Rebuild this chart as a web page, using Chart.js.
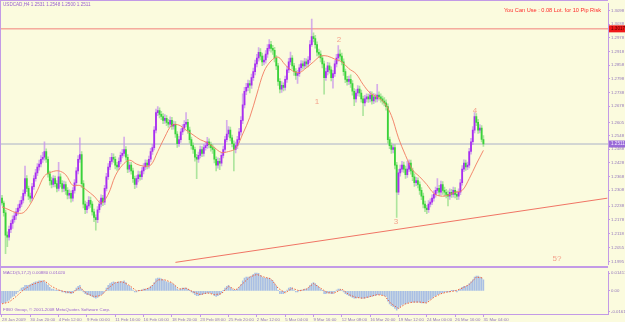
<!DOCTYPE html>
<html lang="en">
<head>
<meta charset="UTF-8">
<title>USDCAD,H4</title>
<script src="https://cdn.jsdelivr.net/npm/chart.js"></script>
<style>
  html, body { margin: 0; padding: 0; }
  body { width: 625px; height: 322px; background: #fbfbde; position: relative; overflow: hidden;
         font-family: "Liberation Sans", Arial, sans-serif; }
  canvas { position: absolute; left: 0; }
  #priceChart { top: 0; }
  #macdChart { top: 268px; }
  .txt { position: absolute; white-space: nowrap; line-height: 1; }
  #title { left: 3px; top: 3px; font-size: 4.6px; color: #9a62d0; }
  #risk { right: 24px; top: 8px; font-size: 5.6px; color: #ff2a2a; }
  #macdTitle { left: 3px; top: 271px; font-size: 4.4px; color: #9a62d0; }
  #copy { left: 3px; top: 308px; font-size: 4.4px; color: #9a62d0; }
  .rule { position: absolute; background: #c39ae6; }
</style>
</head>
<body>
  <canvas id="priceChart" width="625" height="268"></canvas>
  <canvas id="macdChart" width="625" height="54"></canvas>
  <div class="rule" style="left:0;top:266px;width:608px;height:2px"></div>
  <div class="rule" style="left:0;top:0;width:1px;height:314px"></div>
  <div class="rule" style="left:0;top:0;width:608px;height:1px"></div>
  <div id="title" class="txt"></div>
  <div id="risk" class="txt">You Can Use : 0.08 Lot. for 10 Pip Risk</div>
  <div id="macdTitle" class="txt">MACD(5,17,2) 0.00880 0.01020</div>
  <div id="copy" class="txt">FIBO Group, © 2001-2008 MetaQuotes Software Corp.</div>

<script>
// USDCAD H4 bars, oldest first (open of each bar = close of the previous one)
const firstOpen = 1.2273;
const closes = [
  1.2252,1.2209,1.2111,1.2102,1.2136,1.2162,1.2179,1.2196,1.2213,1.2230,
  1.2247,1.2264,1.2294,1.2359,1.2316,1.2282,1.2273,1.2324,1.2359,1.2384,
  1.2410,1.2423,1.2444,1.2453,1.2478,1.2444,1.2380,1.2350,1.2333,1.2359,
  1.2337,1.2316,1.2367,1.2337,1.2316,1.2333,1.2307,1.2286,1.2294,1.2273,
  1.2307,1.2341,1.2393,1.2444,1.2465,1.2337,1.2247,1.2222,1.2239,1.2264,
  1.2247,1.2213,1.2188,1.2179,1.2222,1.2247,1.2273,1.2256,1.2316,1.2367,
  1.2410,1.2435,1.2453,1.2444,1.2418,1.2410,1.2435,1.2461,1.2470,1.2487,
  1.2453,1.2401,1.2418,1.2393,1.2359,1.2333,1.2359,1.2376,1.2367,1.2393,
  1.2410,1.2427,1.2418,1.2444,1.2478,1.2495,1.2572,1.2649,1.2658,1.2641,
  1.2632,1.2615,1.2624,1.2606,1.2598,1.2615,1.2589,1.2598,1.2555,1.2512,
  1.2530,1.2564,1.2581,1.2598,1.2606,1.2572,1.2530,1.2504,1.2487,1.2453,
  1.2444,1.2461,1.2487,1.2470,1.2495,1.2504,1.2521,1.2508,1.2495,1.2487,
  1.2444,1.2418,1.2435,1.2427,1.2461,1.2487,1.2530,1.2555,1.2572,1.2538,
  1.2512,1.2487,1.2504,1.2530,1.2564,1.2615,1.2683,1.2743,1.2760,1.2777,
  1.2769,1.2803,1.2829,1.2863,1.2889,1.2914,1.2897,1.2872,1.2880,1.2906,
  1.2931,1.2948,1.2931,1.2923,1.2889,1.2854,1.2786,1.2752,1.2769,1.2760,
  1.2795,1.2837,1.2872,1.2889,1.2854,1.2829,1.2812,1.2820,1.2846,1.2863,
  1.2854,1.2872,1.2863,1.2880,1.2948,1.2983,1.2974,1.2948,1.2914,1.2906,
  1.2889,1.2863,1.2803,1.2829,1.2854,1.2837,1.2803,1.2820,1.2863,1.2889,
  1.2906,1.2897,1.2872,1.2829,1.2795,1.2786,1.2795,1.2777,1.2743,1.2709,
  1.2735,1.2752,1.2735,1.2709,1.2692,1.2709,1.2718,1.2709,1.2726,1.2700,
  1.2718,1.2709,1.2726,1.2718,1.2709,1.2700,1.2692,1.2675,1.2530,1.2504,
  1.2487,1.2495,1.2418,1.2299,1.2384,1.2401,1.2418,1.2401,1.2376,1.2401,
  1.2427,1.2393,1.2367,1.2341,1.2350,1.2333,1.2307,1.2282,1.2247,1.2230,
  1.2222,1.2247,1.2256,1.2273,1.2290,1.2307,1.2316,1.2299,1.2333,1.2307,
  1.2299,1.2290,1.2282,1.2299,1.2290,1.2307,1.2290,1.2282,1.2299,1.2341,
  1.2401,1.2427,1.2410,1.2418,1.2478,1.2521,1.2572,1.2632,1.2606,1.2572,
  1.2581,1.2531,1.2511
];
const highs = [
  1.2285,1.2260,1.2221,1.2125,1.2150,1.2175,1.2196,1.2210,1.2228,1.2245,
  1.2262,1.2280,1.2310,1.2414,1.2372,1.2326,1.2295,1.2338,1.2372,1.2400,
  1.2425,1.2440,1.2460,1.2475,1.2521,1.2490,1.2455,1.2392,1.2366,1.2372,
  1.2370,1.2350,1.2431,1.2380,1.2350,1.2348,1.2345,1.2320,1.2310,1.2305,
  1.2320,1.2355,1.2408,1.2460,1.2538,1.2478,1.2350,1.2260,1.2255,1.2280,
  1.2278,1.2258,1.2225,1.2200,1.2236,1.2262,1.2288,1.2285,1.2330,1.2382,
  1.2425,1.2452,1.2470,1.2468,1.2456,1.2430,1.2450,1.2476,1.2488,1.2542,
  1.2500,1.2465,1.2432,1.2430,1.2405,1.2370,1.2372,1.2392,1.2390,1.2408,
  1.2425,1.2442,1.2440,1.2458,1.2492,1.2510,1.2588,1.2665,1.2675,1.2670,
  1.2655,1.2645,1.2640,1.2636,1.2620,1.2630,1.2628,1.2612,1.2610,1.2566,
  1.2545,1.2578,1.2596,1.2614,1.2649,1.2620,1.2585,1.2542,1.2516,1.2498,
  1.2466,1.2476,1.2502,1.2500,1.2510,1.2520,1.2540,1.2534,1.2520,1.2508,
  1.2498,1.2455,1.2450,1.2448,1.2475,1.2502,1.2545,1.2615,1.2588,1.2585,
  1.2550,1.2525,1.2520,1.2545,1.2580,1.2632,1.2731,1.2760,1.2778,1.2792,
  1.2790,1.2818,1.2845,1.2880,1.2905,1.2935,1.2930,1.2910,1.2898,1.2922,
  1.2948,1.2970,1.2962,1.2945,1.2936,1.2900,1.2866,1.2798,1.2785,1.2780,
  1.2810,1.2852,1.2888,1.2915,1.2900,1.2866,1.2842,1.2835,1.2860,1.2878,
  1.2876,1.2888,1.2885,1.2895,1.2965,1.3060,1.3000,1.2988,1.2960,1.2928,
  1.2920,1.2900,1.2875,1.2845,1.2870,1.2868,1.2850,1.2835,1.2878,1.2905,
  1.2944,1.2925,1.2910,1.2885,1.2840,1.2808,1.2810,1.2815,1.2790,1.2755,
  1.2750,1.2768,1.2765,1.2748,1.2722,1.2725,1.2732,1.2730,1.2742,1.2740,
  1.2734,1.2730,1.2773,1.2740,1.2732,1.2722,1.2715,1.2705,1.2688,1.2542,
  1.2516,1.2510,1.2508,1.2430,1.2400,1.2418,1.2435,1.2432,1.2414,1.2435,
  1.2442,1.2440,1.2405,1.2380,1.2365,1.2362,1.2345,1.2320,1.2295,1.2260,
  1.2242,1.2262,1.2270,1.2288,1.2305,1.2322,1.2359,1.2330,1.2348,1.2346,
  1.2322,1.2312,1.2305,1.2314,1.2312,1.2322,1.2320,1.2304,1.2314,1.2356,
  1.2416,1.2442,1.2440,1.2432,1.2492,1.2536,1.2588,1.2649,1.2645,1.2620,
  1.2596,1.2592,1.2548
];
const lows = [
  1.2242,1.2194,1.2029,1.2060,1.2088,1.2122,1.2140,1.2168,1.2180,1.2200,
  1.2218,1.2236,1.2252,1.2283,1.2302,1.2266,1.2255,1.2262,1.2312,1.2348,
  1.2372,1.2396,1.2410,1.2430,1.2440,1.2430,1.2365,1.2330,1.2318,1.2322,
  1.2322,1.2300,1.2305,1.2322,1.2300,1.2302,1.2290,1.2270,1.2272,1.2255,
  1.2260,1.2295,1.2330,1.2380,1.2430,1.2320,1.2230,1.2205,1.2208,1.2228,
  1.2232,1.2198,1.2170,1.2132,1.2165,1.2210,1.2235,1.2240,1.2245,1.2305,
  1.2355,1.2398,1.2422,1.2430,1.2402,1.2395,1.2398,1.2424,1.2450,1.2458,
  1.2440,1.2385,1.2388,1.2378,1.2342,1.2315,1.2320,1.2345,1.2352,1.2355,
  1.2380,1.2398,1.2402,1.2405,1.2432,1.2465,1.2485,1.2560,1.2636,1.2626,
  1.2618,1.2600,1.2602,1.2592,1.2584,1.2586,1.2575,1.2576,1.2540,1.2496,
  1.2500,1.2518,1.2552,1.2568,1.2586,1.2558,1.2515,1.2488,1.2470,1.2436,
  1.2359,1.2430,1.2450,1.2455,1.2458,1.2484,1.2492,1.2494,1.2480,1.2470,
  1.2428,1.2393,1.2405,1.2398,1.2415,1.2450,1.2476,1.2520,1.2542,1.2525,
  1.2498,1.2393,1.2472,1.2490,1.2518,1.2550,1.2600,1.2670,1.2728,1.2745,
  1.2735,1.2755,1.2790,1.2815,1.2850,1.2875,1.2880,1.2855,1.2858,1.2866,
  1.2892,1.2920,1.2915,1.2905,1.2872,1.2838,1.2768,1.2735,1.2738,1.2744,
  1.2748,1.2782,1.2825,1.2860,1.2840,1.2812,1.2795,1.2777,1.2808,1.2834,
  1.2840,1.2842,1.2848,1.2850,1.2868,1.2940,1.2960,1.2932,1.2898,1.2890,
  1.2872,1.2845,1.2730,1.2790,1.2815,1.2822,1.2788,1.2756,1.2808,1.2850,
  1.2875,1.2882,1.2858,1.2812,1.2780,1.2770,1.2772,1.2760,1.2726,1.2679,
  1.2695,1.2722,1.2720,1.2695,1.2636,1.2678,1.2696,1.2694,1.2696,1.2686,
  1.2688,1.2695,1.2696,1.2704,1.2695,1.2686,1.2678,1.2660,1.2515,1.2490,
  1.2470,1.2472,1.2402,1.2188,1.2288,1.2370,1.2388,1.2386,1.2360,1.2364,
  1.2390,1.2378,1.2350,1.2325,1.2328,1.2318,1.2290,1.2266,1.2230,1.2214,
  1.2205,1.2210,1.2235,1.2244,1.2260,1.2278,1.2295,1.2284,1.2286,1.2290,
  1.2282,1.2274,1.2239,1.2268,1.2276,1.2278,1.2274,1.2266,1.2268,1.2288,
  1.2330,1.2390,1.2395,1.2398,1.2406,1.2466,1.2508,1.2560,1.2592,1.2558,
  1.2560,1.2520,1.2500
];

// red moving average, read every 4th bar
const maStep = 4;
const maValues = [
  1.2235,1.2222,1.2209,1.2209,1.2247,1.2307,1.2371,1.2388,1.2393,1.2376,
  1.2329,1.2329,1.2307,1.2282,1.2252,1.2290,1.2371,1.2418,1.2440,1.2423,
  1.2414,1.2418,1.2478,1.2542,1.2594,1.2594,1.2572,1.2551,1.2530,1.2517,
  1.2495,1.2474,1.2478,1.2491,1.2555,1.2628,1.2730,1.2829,1.2876,1.2893,
  1.2859,1.2833,1.2825,1.2846,1.2872,1.2897,1.2897,1.2884,1.2872,1.2842,
  1.2820,1.2773,1.2735,1.2718,1.2692,1.2636,1.2538,1.2461,1.2397,1.2367,
  1.2333,1.2294,1.2282,1.2286,1.2299,1.2307,1.2359,1.2423,1.2483
];

// MACD histogram, one value per bar
const macdHist = [
  -0.0095,-0.0095,-0.0088,-0.0080,-0.0073,-0.0058,-0.0044,-0.0037,-0.0022,-0.0007,
  0.0007,0.0022,0.0029,0.0044,0.0044,0.0044,0.0051,0.0058,0.0066,0.0073,
  0.0073,0.0080,0.0080,0.0080,0.0073,0.0058,0.0044,0.0029,0.0015,0.0015,
  0.0007,0.0003,0.0007,0.0003,-0.0007,-0.0007,-0.0015,-0.0015,-0.0015,-0.0022,
  -0.0015,0.0003,0.0022,0.0037,0.0044,0.0015,-0.0007,-0.0022,-0.0029,-0.0029,
  -0.0037,-0.0044,-0.0051,-0.0058,-0.0051,-0.0037,-0.0029,-0.0022,-0.0003,0.0022,
  0.0044,0.0058,0.0066,0.0073,0.0066,0.0066,0.0073,0.0073,0.0073,0.0080,
  0.0066,0.0044,0.0037,0.0022,0.0007,-0.0007,-0.0007,0.0003,0.0003,0.0007,
  0.0015,0.0015,0.0015,0.0022,0.0037,0.0044,0.0066,0.0095,0.0102,0.0102,
  0.0095,0.0088,0.0080,0.0073,0.0066,0.0066,0.0058,0.0051,0.0037,0.0015,
  0.0007,0.0015,0.0022,0.0022,0.0022,0.0015,0.0003,-0.0007,-0.0015,-0.0029,
  -0.0037,-0.0037,-0.0029,-0.0029,-0.0022,-0.0022,-0.0015,-0.0015,-0.0015,-0.0022,
  -0.0037,-0.0044,-0.0037,-0.0029,-0.0015,0.0003,0.0022,0.0037,0.0044,0.0029,
  0.0015,0.0003,0.0007,0.0015,0.0029,0.0051,0.0080,0.0102,0.0110,0.0110,
  0.0110,0.0117,0.0131,0.0141,0.0141,0.0139,0.0124,0.0110,0.0102,0.0102,
  0.0102,0.0102,0.0088,0.0080,0.0058,0.0037,0.0003,-0.0022,-0.0022,-0.0022,
  -0.0007,0.0007,0.0022,0.0029,0.0022,0.0007,-0.0007,-0.0007,0.0003,0.0007,
  0.0007,0.0015,0.0015,0.0022,0.0044,0.0058,0.0066,0.0058,0.0044,0.0029,
  0.0015,0.0003,-0.0022,-0.0022,-0.0015,-0.0015,-0.0022,-0.0022,-0.0007,0.0007,
  0.0015,0.0015,0.0007,-0.0007,-0.0022,-0.0029,-0.0037,-0.0044,-0.0051,-0.0058,
  -0.0058,-0.0051,-0.0051,-0.0058,-0.0058,-0.0058,-0.0051,-0.0051,-0.0044,-0.0044,
  -0.0037,-0.0037,-0.0029,-0.0029,-0.0029,-0.0029,-0.0037,-0.0044,-0.0080,-0.0102,
  -0.0117,-0.0124,-0.0139,-0.0153,-0.0139,-0.0124,-0.0110,-0.0102,-0.0102,-0.0095,
  -0.0088,-0.0088,-0.0088,-0.0088,-0.0088,-0.0088,-0.0088,-0.0095,-0.0095,-0.0095,
  -0.0088,-0.0073,-0.0066,-0.0058,-0.0044,-0.0037,-0.0029,-0.0022,-0.0015,-0.0015,
  -0.0007,-0.0007,-0.0007,-0.0007,0.0003,0.0003,0.0003,-0.0007,0.0003,0.0015,
  0.0029,0.0037,0.0037,0.0044,0.0058,0.0073,0.0088,0.0110,0.0117,0.0117,
  0.0110,0.0102,0.0088
];
// MACD signal line (dotted), read every 4th bar
const signalStep = 4;
const macdSignal = [
  -0.0102,-0.0088,-0.0044,0.0007,0.0044,0.0066,0.0080,0.0037,0.0007,-0.0007,
  -0.0015,0.0029,-0.0022,-0.0044,-0.0037,0.0022,0.0066,0.0073,0.0044,0.0000,
  0.0007,0.0029,0.0088,0.0088,0.0066,0.0015,0.0022,-0.0007,-0.0029,-0.0015,
  -0.0029,-0.0022,0.0037,0.0007,0.0058,0.0110,0.0131,0.0110,0.0095,0.0022,
  -0.0015,0.0022,0.0000,0.0015,0.0058,0.0022,-0.0015,-0.0015,0.0015,-0.0029,
  -0.0051,-0.0058,-0.0044,-0.0029,-0.0037,-0.0102,-0.0139,-0.0102,-0.0088,-0.0088,
  -0.0095,-0.0051,-0.0022,-0.0007,0.0000,0.0022,0.0051,0.0110,0.0102
];

// axis labels
const priceTicks = [1.3098,1.3038,1.2978,1.2918,1.2858,1.2798,1.2738,1.2678,1.2605,1.2548,
                    1.2488,1.2428,1.2368,1.2308,1.2238,1.2178,1.2118,1.2055,1.1995];
const macdTicks = [0.01413, 0, -0.01613];
const timeTickBars = [0,16,32,48,64,80,96,112,128,144,160,176,192,208,224,240,256,272];
const timeLabels = ['28 Jan 2009','30 Jan 20:00','4 Feb 12:00','9 Feb 00:00','11 Feb 16:00',
  '16 Feb 04:00','18 Feb 20:00','23 Feb 08:00','25 Feb 20:00','2 Mar 12:00','5 Mar 04:00',
  '9 Mar 16:00','12 Mar 08:00','16 Mar 20:00','19 Mar 12:00','24 Mar 00:00','26 Mar 16:00','31 Mar 04:00'];

// drawn objects
const stopLevel = 1.3017;
const trendBars = [98, 342];
const trendPrices = [1.1991, 1.2273];
const waveText = ['1', '2', '3', '4', '5?'];
const waveBars = [178, 190.4, 222.6, 267.2, 313.6];
const wavePrices = [1.2696, 1.2970, 1.2170, 1.2658, 1.2005];

// view window
const xMin = -1.13, xMax = 342.4;
const priceMin = 1.1982, priceMax = 1.3128;
const macdMin = -0.01825, macdMax = 0.01533;

const axisColor = '#c39ae6';
const labelColor = '#9478bc';
const fontFamily = '"Liberation Sans", Arial, sans-serif';
Chart.defaults.font.family = fontFamily;

const n = closes.length;
const opens = closes.map((c, i) => (i === 0 ? firstOpen : closes[i - 1]));
const up = closes.map((c, i) => c >= opens[i]);
const last = n - 1;

document.getElementById('title').textContent =
  'USDCAD,H4 ' + [opens[last], highs[last], lows[last], closes[last]].map(v => v.toFixed(4)).join(' ');

const priceTags = {
  id: 'priceTags',
  afterDatasetsDraw(chart) {
    const { ctx, chartArea, scales } = chart;
    const x = scales.x, y = scales.y;
    ctx.save();
    // wave count
    ctx.font = '8px ' + fontFamily;
    ctx.fillStyle = '#f4a38c';
    ctx.textAlign = 'center';
    ctx.textBaseline = 'middle';
    waveText.forEach((t, k) => ctx.fillText(t, x.getPixelForValue(waveBars[k]), y.getPixelForValue(wavePrices[k])));
    // tags on the price axis
    const tags = [
      { v: stopLevel, fill: '#f01818', text: '#5a0000' },
      { v: closes[last], fill: '#9a6ad8', text: '#f4ecff' }
    ];
    ctx.font = '4.6px ' + fontFamily;
    ctx.textAlign = 'left';
    tags.forEach(t => {
      const py = y.getPixelForValue(t.v);
      ctx.fillStyle = t.fill;
      ctx.fillRect(chartArea.right + 1, py - 3.5, chart.width - chartArea.right - 1, 7);
      ctx.fillStyle = t.text;
      ctx.fillText(t.v.toFixed(4), chartArea.right + 3, py);
    });
    ctx.restore();
  }
};

new Chart(document.getElementById('priceChart'), {
  type: 'bar',
  data: {
    datasets: [
      { type: 'line', data: [{ x: xMin, y: stopLevel }, { x: xMax, y: stopLevel }],
        borderColor: '#f2807a', borderWidth: 1, pointRadius: 0, order: 7 },
      { type: 'line', data: [{ x: xMin, y: closes[last] }, { x: xMax, y: closes[last] }],
        borderColor: '#aab0c8', borderWidth: 1, pointRadius: 0, order: 7 },
      { type: 'line', data: trendBars.map((b, k) => ({ x: b, y: trendPrices[k] })),
        borderColor: '#f07464', borderWidth: 1, pointRadius: 0, order: 6 },
      { data: closes.map((c, i) => ({ x: i, y: [lows[i], highs[i]] })),
        backgroundColor: up.map(u => (u ? 'rgba(196,140,238,0.7)' : 'rgba(140,220,130,0.7)')),
        barThickness: 1, grouped: false, borderWidth: 0, order: 5 },
      { data: closes.map((c, i) => ({ x: i, y: [opens[i], c] })),
        backgroundColor: up.map(u => (u ? '#a82ef0' : '#3ad23a')),
        barThickness: 1.15, minBarLength: 1, grouped: false, borderWidth: 0, order: 4 },
      { type: 'line', data: maValues.map((v, k) => ({ x: k * maStep, y: v })),
        borderColor: '#f27a60', borderWidth: 0.9, pointRadius: 0, tension: 0.35, order: 3 }
    ]
  },
  options: {
    responsive: false,
    devicePixelRatio: 1,
    animation: false,
    events: [],
    layout: { padding: 0 },
    plugins: { legend: { display: false }, tooltip: { enabled: false } },
    scales: {
      x: { type: 'linear', min: xMin, max: xMax, offset: false, display: false, grid: { offset: false } },
      y: {
        position: 'right', min: priceMin, max: priceMax, beginAtZero: false,
        afterFit: s => { s.width = 17; },
        afterBuildTicks: s => { s.ticks = priceTicks.map(v => ({ value: v })); },
        ticks: { autoSkip: false, padding: 1, color: labelColor, font: { size: 4.3 },
                 callback: v => v.toFixed(4) },
        grid: { drawOnChartArea: false, tickLength: 2, color: axisColor },
        border: { color: axisColor }
      }
    }
  },
  plugins: [priceTags]
});

new Chart(document.getElementById('macdChart'), {
  type: 'bar',
  data: {
    datasets: [
      { type: 'line', data: macdSignal.map((v, k) => ({ x: k * signalStep, y: v })),
        borderColor: '#f0603c', borderWidth: 1, borderDash: [1.5, 1.5], pointRadius: 0, order: 1 },
      { data: macdHist.map((v, i) => ({ x: i, y: v })),
        backgroundColor: '#a9bfe4', barThickness: 0.9, borderWidth: 0, order: 2 }
    ]
  },
  options: {
    responsive: false,
    devicePixelRatio: 1,
    animation: false,
    events: [],
    layout: { padding: 0 },
    plugins: { legend: { display: false }, tooltip: { enabled: false } },
    scales: {
      x: {
        type: 'linear', min: xMin, max: xMax, offset: false,
        afterFit: s => { s.height = 8; },
        afterBuildTicks: s => { s.ticks = timeTickBars.map(v => ({ value: v })); },
        ticks: { autoSkip: false, maxRotation: 0, align: 'start', padding: 0, color: labelColor,
                 font: { size: 4.3 }, callback: v => timeLabels[timeTickBars.indexOf(v)] },
        grid: { drawOnChartArea: false, offset: false, tickLength: 3, color: axisColor },
        border: { color: axisColor }
      },
      y: {
        position: 'right', min: macdMin, max: macdMax, beginAtZero: false,
        afterFit: s => { s.width = 17; },
        afterBuildTicks: s => { s.ticks = macdTicks.map(v => ({ value: v })); },
        ticks: { autoSkip: false, padding: 1, color: labelColor, font: { size: 4.3 },
                 callback: v => (v === 0 ? '0.00' : v.toFixed(5)) },
        grid: { drawOnChartArea: false, tickLength: 2, color: axisColor },
        border: { color: axisColor }
      }
    }
  }
});
</script>
</body>
</html>
